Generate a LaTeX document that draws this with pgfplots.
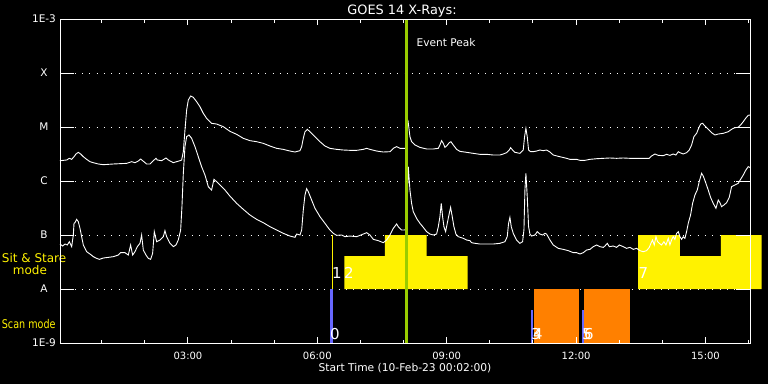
\documentclass[border=0pt]{standalone}
\usepackage{fontspec}
\setmainfont{DejaVu Sans}
\usepackage{pgfplots}
\pgfplotsset{compat=1.18}
\definecolor{evgreen}{RGB}{153,204,0}
\definecolor{scanblue}{RGB}{104,104,255}
\definecolor{scanorange}{RGB}{255,128,0}
\newcommand{\fs}[1]{\fontsize{#1}{#1}\selectfont}
\begin{document}
\begin{tikzpicture}
\fill[black] (0pt,0pt) rectangle (768pt,384pt);
\useasboundingbox (0pt,0pt) rectangle (768pt,384pt);
\node[anchor=base, white, inner sep=0, font=\fs{12.9}] at (402pt,370pt) {GOES 14 X-Rays:};
\node[anchor=base, white, inner sep=0, font=\fs{10.7}] at (405pt,12.3pt) {Start Time (10-Feb-23 00:02:00)};
\node[anchor=base west, yellow, inner sep=0, font=\fs{12}] at (1.7pt,121.3pt) {Sit \& Stare};
\node[anchor=base west, yellow, inner sep=0, font=\fs{12}] at (12.7pt,109.7pt) {mode};
\node[anchor=base west, yellow, inner sep=0, font=\fs{12}] at (1.7pt,55.7pt) {\scalebox{0.8}[1]{Scan mode}};
\begin{axis}[
  at={(60pt,41pt)}, anchor=south west,
  scale only axis, width=690pt, height=324pt,
  xmin=0.0333, xmax=16.0333, ymin=-9, ymax=-3,
  clip=false, axis on top,
  axis line style={white, line width=1pt},
  xtick={3,6,9,12,15}, xticklabels={03:00,06:00,09:00,12:00,15:00},
  minor xtick={1,2,4,5,7,8,10,11,13,14,16},
  tick align=inside, major tick length=6pt, minor tick length=3.5pt,
  tick style={white, line width=1pt},
  ytick={-9,-8,-7,-6,-5,-4,-3},
  yticklabels={1E-9,A,B,C,M,X,1E-3},
  ytick style={draw=none},
  xticklabel style={font=\fs{10}, text=white, inner sep=0, anchor=north, yshift=-8.7pt},
  yticklabel style={font=\fs{10.5}, text=white, inner sep=0, anchor=center, xshift=-16pt},
  /pgf/number format/assume math mode=true,
]
% dotted grid
\addplot[white, line width=1pt, dash pattern=on 1pt off 6.33pt, forget plot] coordinates {(0.0333,-8) (16.0333,-8)};
\addplot[white, line width=1pt, dash pattern=on 1pt off 6.33pt, forget plot] coordinates {(0.0333,-7) (16.0333,-7)};
\addplot[white, line width=1pt, dash pattern=on 1pt off 6.33pt, forget plot] coordinates {(0.0333,-6) (16.0333,-6)};
\addplot[white, line width=1pt, dash pattern=on 1pt off 6.33pt, forget plot] coordinates {(0.0333,-5) (16.0333,-5)};
\addplot[white, line width=1pt, dash pattern=on 1pt off 6.33pt, forget plot] coordinates {(0.0333,-4) (16.0333,-4)};
% sit & stare blocks
\addplot[fill=yellow, draw=none, forget plot] coordinates {(6.625,-8) (6.625,-7.389) (7.568,-7.389) (7.568,-7) (8.535,-7) (8.535,-7.389) (9.486,-7.389) (9.486,-8)} -- cycle;
\addplot[fill=yellow, draw=none, forget plot] coordinates {(13.441,-8) (13.441,-7) (14.408,-7) (14.408,-7.389) (15.359,-7.389) (15.359,-7) (16.302,-7) (16.302,-8)} -- cycle;
\addplot[yellow, line width=1pt, forget plot] coordinates {(6.347,-8) (6.347,-7)};
% scan mode blocks
\addplot[fill=scanorange, draw=none, forget plot] coordinates {(11.023,-9) (11.023,-8) (12.066,-8) (12.066,-9)} -- cycle;
\addplot[fill=scanorange, draw=none, forget plot] coordinates {(12.182,-9) (12.182,-8) (13.249,-8) (13.249,-9)} -- cycle;
\addplot[fill=scanblue, draw=none, forget plot] coordinates {(6.293,-9) (6.293,-8) (6.363,-8) (6.363,-9)} -- cycle;
\addplot[fill=scanblue, draw=none, forget plot] coordinates {(10.954,-9) (10.954,-8.389) (11.007,-8.389) (11.007,-9)} -- cycle;
\addplot[fill=scanblue, draw=none, forget plot] coordinates {(12.136,-9) (12.136,-8.389) (12.175,-8.389) (12.175,-9)} -- cycle;
% y ticks
\addplot[white, line width=1pt, forget plot] coordinates {(0.0333,-8) (0.358,-8)};
\addplot[white, line width=1pt, forget plot] coordinates {(0.0333,-7) (0.358,-7)};
\addplot[white, line width=1pt, forget plot] coordinates {(0.0333,-6) (0.358,-6)};
\addplot[white, line width=1pt, forget plot] coordinates {(0.0333,-5) (0.358,-5)};
\addplot[white, line width=1pt, forget plot] coordinates {(0.0333,-4) (0.358,-4)};
\addplot[white, line width=1pt, forget plot] coordinates {(15.708,-8) (16.0333,-8)};
\addplot[white, line width=1pt, forget plot] coordinates {(15.708,-7) (16.0333,-7)};
\addplot[white, line width=1pt, forget plot] coordinates {(15.708,-6) (16.0333,-6)};
\addplot[white, line width=1pt, forget plot] coordinates {(15.708,-5) (16.0333,-5)};
\addplot[white, line width=1pt, forget plot] coordinates {(15.708,-4) (16.0333,-4)};
% long channel (1-8 A)
\addplot[white, line width=0.9pt] coordinates {
(0.033,-5.624) (0.188,-5.611) (0.250,-5.580) (0.304,-5.599) (0.358,-5.550) (0.404,-5.500) (0.458,-5.469) (0.512,-5.500) (0.574,-5.550) (0.651,-5.599) (0.729,-5.642) (0.806,-5.661) (0.922,-5.685) (1.038,-5.698) (1.270,-5.685) (1.579,-5.673) (1.695,-5.642) (1.772,-5.661) (1.849,-5.630) (1.903,-5.593) (1.950,-5.624) (2.042,-5.685) (2.120,-5.685) (2.197,-5.624) (2.259,-5.580) (2.290,-5.611) (2.390,-5.624) (2.491,-5.574) (2.545,-5.611) (2.661,-5.661) (2.738,-5.642) (2.815,-5.624) (2.854,-5.611) (2.893,-5.457) (2.931,-5.056) (2.970,-4.685) (3.009,-4.500) (3.063,-4.426) (3.124,-4.451) (3.202,-4.531) (3.279,-4.624) (3.356,-4.747) (3.433,-4.840) (3.549,-4.932) (3.665,-4.945) (3.820,-4.994) (3.974,-5.080) (4.130,-5.136) (4.284,-5.210) (4.439,-5.253) (4.593,-5.272) (4.748,-5.303) (4.902,-5.352) (5.057,-5.395) (5.211,-5.414) (5.366,-5.445) (5.482,-5.463) (5.598,-5.438) (5.637,-5.364) (5.675,-5.210) (5.714,-5.087) (5.768,-5.043) (5.830,-5.087) (5.946,-5.179) (6.062,-5.272) (6.177,-5.352) (6.293,-5.395) (6.448,-5.414) (6.603,-5.426) (6.757,-5.432) (6.912,-5.432) (7.066,-5.414) (7.144,-5.395) (7.221,-5.414) (7.375,-5.445) (7.530,-5.463) (7.685,-5.457) (7.762,-5.395) (7.839,-5.364) (7.916,-5.395) (8.055,-5.395) (8.101,-4.871) (8.148,-5.179) (8.186,-5.272) (8.264,-5.333) (8.380,-5.377) (8.534,-5.407) (8.689,-5.407) (8.805,-5.395) (8.843,-5.333) (8.882,-5.253) (8.921,-5.303) (8.959,-5.377) (8.998,-5.352) (9.060,-5.290) (9.098,-5.272) (9.153,-5.333) (9.230,-5.414) (9.307,-5.451) (9.462,-5.469) (9.616,-5.488) (9.771,-5.506) (9.925,-5.506) (10.080,-5.519) (10.234,-5.519) (10.312,-5.500) (10.389,-5.475) (10.451,-5.426) (10.482,-5.383) (10.528,-5.426) (10.582,-5.469) (10.698,-5.488) (10.775,-5.426) (10.806,-5.179) (10.837,-5.025) (10.868,-5.179) (10.899,-5.426) (10.945,-5.457) (11.007,-5.457) (11.085,-5.445) (11.162,-5.426) (11.239,-5.438) (11.316,-5.426) (11.394,-5.463) (11.471,-5.519) (11.625,-5.550) (11.780,-5.580) (11.858,-5.599) (12.013,-5.599) (12.090,-5.617) (12.206,-5.617) (12.322,-5.599) (12.476,-5.587) (12.631,-5.580) (12.785,-5.574) (12.940,-5.580) (13.094,-5.574) (13.249,-5.580) (13.404,-5.580) (13.558,-5.580) (13.697,-5.580) (13.751,-5.537) (13.829,-5.500) (13.906,-5.525) (14.022,-5.531) (14.099,-5.506) (14.176,-5.525) (14.254,-5.500) (14.315,-5.519) (14.370,-5.457) (14.408,-5.475) (14.485,-5.500) (14.563,-5.475) (14.625,-5.426) (14.679,-5.333) (14.733,-5.179) (14.795,-5.117) (14.841,-5.025) (14.888,-4.945) (14.934,-4.932) (14.988,-4.982) (15.065,-5.043) (15.142,-5.105) (15.220,-5.148) (15.297,-5.130) (15.413,-5.117) (15.529,-5.087) (15.606,-5.043) (15.683,-5.012) (15.761,-5.006) (15.815,-4.963) (15.877,-4.901) (15.938,-4.833) (15.992,-4.784) (16.031,-4.778)
};
% short channel (0.5-4 A)
\addplot[white, line width=0.9pt] coordinates {
(0.033,-7.167) (0.095,-7.204) (0.149,-7.167) (0.203,-7.185) (0.250,-7.124) (0.304,-7.216) (0.342,-7.000) (0.358,-6.784) (0.381,-6.772) (0.419,-6.710) (0.458,-6.753) (0.497,-6.877) (0.535,-7.031) (0.574,-7.185) (0.651,-7.309) (0.729,-7.352) (0.806,-7.401) (0.883,-7.432) (0.945,-7.451) (1.038,-7.426) (1.154,-7.414) (1.270,-7.401) (1.385,-7.371) (1.440,-7.327) (1.540,-7.327) (1.617,-7.371) (1.671,-7.185) (1.718,-7.371) (1.772,-7.309) (1.826,-7.216) (1.888,-7.154) (1.926,-7.000) (1.965,-7.278) (2.027,-7.371) (2.081,-7.432) (2.135,-7.451) (2.181,-7.340) (2.220,-6.938) (2.274,-7.124) (2.351,-7.093) (2.429,-7.031) (2.467,-6.920) (2.506,-7.031) (2.583,-7.154) (2.661,-7.216) (2.722,-7.185) (2.776,-7.093) (2.831,-6.907) (2.861,-6.475) (2.893,-5.858) (2.931,-5.364) (2.970,-5.179) (3.024,-5.148) (3.086,-5.210) (3.163,-5.364) (3.240,-5.550) (3.317,-5.735) (3.395,-5.889) (3.472,-6.105) (3.549,-6.167) (3.603,-5.969) (3.665,-6.012) (3.742,-6.074) (3.858,-6.167) (3.974,-6.280) (4.130,-6.414) (4.284,-6.525) (4.439,-6.630) (4.593,-6.710) (4.748,-6.772) (4.902,-6.846) (5.057,-6.908) (5.211,-6.969) (5.366,-7.019) (5.482,-7.043) (5.521,-6.982) (5.598,-7.000) (5.637,-6.908) (5.675,-6.537) (5.714,-6.259) (5.752,-6.142) (5.791,-6.198) (5.868,-6.352) (5.946,-6.506) (6.062,-6.661) (6.177,-6.784) (6.293,-6.908) (6.371,-6.969) (6.448,-7.006) (6.564,-7.000) (6.641,-7.031) (6.757,-7.019) (6.912,-7.031) (7.066,-6.982) (7.144,-6.957) (7.221,-7.000) (7.298,-7.080) (7.414,-7.105) (7.530,-7.142) (7.607,-7.093) (7.685,-7.000) (7.762,-6.877) (7.839,-6.796) (7.877,-6.846) (7.955,-6.908) (8.032,-6.908) (8.070,-6.846) (8.109,-5.735) (8.148,-6.167) (8.186,-6.414) (8.225,-6.568) (8.302,-6.692) (8.380,-6.784) (8.457,-6.858) (8.534,-6.938) (8.612,-6.982) (8.689,-7.000) (8.766,-6.982) (8.805,-6.846) (8.843,-6.661) (8.874,-6.414) (8.905,-6.661) (8.936,-6.846) (8.975,-6.938) (9.013,-6.784) (9.060,-6.599) (9.091,-6.488) (9.129,-6.661) (9.168,-6.846) (9.214,-6.982) (9.268,-7.031) (9.384,-7.062) (9.462,-7.093) (9.539,-7.105) (9.577,-7.142) (9.655,-7.154) (9.771,-7.167) (9.925,-7.167) (10.080,-7.167) (10.234,-7.154) (10.350,-7.124) (10.404,-7.031) (10.435,-6.784) (10.466,-6.673) (10.497,-6.846) (10.544,-6.969) (10.621,-7.093) (10.698,-7.154) (10.760,-7.124) (10.791,-6.908) (10.814,-6.167) (10.837,-5.858) (10.868,-6.290) (10.899,-6.846) (10.930,-6.982) (10.969,-7.019) (11.046,-7.000) (11.100,-6.938) (11.162,-6.982) (11.224,-7.000) (11.278,-6.969) (11.316,-6.982) (11.394,-7.093) (11.471,-7.185) (11.587,-7.247) (11.703,-7.266) (11.819,-7.290) (11.935,-7.327) (12.013,-7.327) (12.090,-7.352) (12.167,-7.327) (12.244,-7.278) (12.322,-7.266) (12.399,-7.216) (12.476,-7.185) (12.554,-7.216) (12.631,-7.229) (12.669,-7.204) (12.724,-7.154) (12.770,-7.216) (12.863,-7.204) (12.940,-7.229) (13.002,-7.185) (13.094,-7.216) (13.172,-7.247) (13.249,-7.229) (13.326,-7.266) (13.404,-7.247) (13.481,-7.290) (13.558,-7.309) (13.635,-7.290) (13.697,-7.229) (13.736,-7.154) (13.774,-7.093) (13.813,-7.185) (13.852,-7.031) (13.890,-7.124) (13.929,-7.154) (13.983,-7.185) (14.037,-7.124) (14.084,-7.185) (14.138,-7.062) (14.176,-7.185) (14.215,-7.093) (14.254,-7.031) (14.292,-7.080) (14.331,-6.969) (14.370,-6.938) (14.408,-7.031) (14.447,-7.080) (14.485,-7.031) (14.524,-7.062) (14.563,-6.938) (14.601,-6.784) (14.655,-6.630) (14.702,-6.414) (14.756,-6.259) (14.810,-6.167) (14.856,-6.012) (14.911,-5.858) (14.949,-5.907) (15.011,-6.043) (15.065,-6.167) (15.119,-6.303) (15.181,-6.414) (15.243,-6.506) (15.297,-6.352) (15.336,-6.401) (15.374,-6.475) (15.429,-6.445) (15.490,-6.401) (15.552,-6.303) (15.606,-6.105) (15.683,-6.074) (15.761,-6.043) (15.815,-5.969) (15.877,-5.889) (15.938,-5.796) (15.992,-5.735) (16.031,-5.747)
};
% event peak
\addplot[evgreen, line width=2.5pt, forget plot] coordinates {(8.067,-9) (8.067,-3)};
\node[anchor=base west, white, inner sep=0, font=\fs{10.6}] at (axis cs:8.30,-3.513) {Event Peak};
% segment numbers
\node[anchor=base west, white, inner sep=0, font=\fs{15}] at (axis cs:6.293,-8.926) {0};
\node[anchor=base west, white, inner sep=0, font=\fs{15}] at (axis cs:6.34,-7.802) {1};
\node[anchor=base west, white, inner sep=0, font=\fs{15}] at (axis cs:6.618,-7.802) {2};
\node[anchor=base west, white, inner sep=0, font=\fs{15}] at (axis cs:10.954,-8.926) {3};
\node[anchor=base west, white, inner sep=0, font=\fs{15}] at (axis cs:11.0,-8.926) {4};
\node[anchor=base west, white, inner sep=0, font=\fs{15}] at (axis cs:12.136,-8.926) {5};
\node[anchor=base west, white, inner sep=0, font=\fs{15}] at (axis cs:12.18,-8.926) {6};
\node[anchor=base west, white, inner sep=0, font=\fs{15}] at (axis cs:13.446,-7.802) {7};
\end{axis}
\end{tikzpicture}
\end{document}
